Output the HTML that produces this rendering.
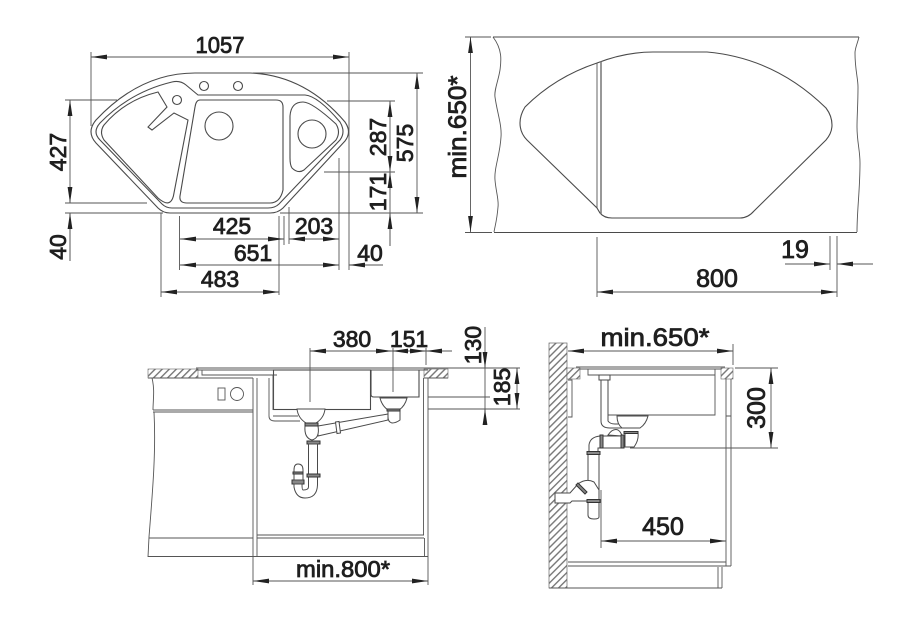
<!DOCTYPE html>
<html><head><meta charset="utf-8"><style>
html,body{margin:0;padding:0;background:#fff}
svg{display:block}
text{font-family:"Liberation Sans",sans-serif;font-size:23px;fill:#1f1f1f;stroke:#1f1f1f;stroke-width:.8;text-anchor:middle}
text.b{font-size:25px}
.d{stroke:#555;stroke-width:.9;fill:none}
.a{stroke:#555;stroke-width:.9;fill:none;marker-start:url(#m);marker-end:url(#m)}
.s{stroke:#555;stroke-width:.9;fill:none;marker-start:url(#m)}
.o{stroke:#4a4a4a;stroke-width:1.1;fill:none}
.p{stroke:#4a4a4a;stroke-width:1;fill:#fff}
.n{stroke:#333;stroke-width:1;fill:#888}
</style></head><body>
<svg width="920" height="630" viewBox="0 0 920 630" xmlns="http://www.w3.org/2000/svg">
<defs>
<marker id="m" markerUnits="userSpaceOnUse" markerWidth="17" markerHeight="6" refX="16" refY="3" orient="auto-start-reverse"><path d="M0 .6L16 3L0 5.400Z" fill="#222"/></marker>
<pattern id="h" width="5" height="5" patternUnits="userSpaceOnUse" patternTransform="rotate(45)"><rect width="5" height="5" fill="#fff"/><rect width="1.4" height="5" fill="#777"/></pattern>
</defs>

<!-- top-left plan -->
<path class="o" d="M96 120Q140 73 195 73L250 73Q305 75 345 122Q352 132 345 141L283 208Q278 213 270 213L170 213Q163 213 158 208L96 143Q86 132 96 120Z"/>
<path class="o" d="M100 123Q130 92 172 82Q180 80 186 85L198 95Q201 95 205 95L305 95Q318 96 340 122Q346 132 340 140L279 204Q275 208 268 208L172 208Q166 208 162 204L100 140Q92 132 100 123Z"/>
<path class="o" d="M158 92Q125 100 104 125Q99 132 104 140L158 198Q166 205 170 202Q173 200 174 193L188 120L174 113L152 130L148 127L167 107Z"/>
<path class="o" d="M200 100L276 100Q283 100 283 107L283 190Q280 203 270 203L187 203Q179 203 180 196L195 107Q196 100 200 100Z"/>
<path class="o" d="M290 116Q291 102 303 102Q312 102 336 124Q341 132 336 140L304 170Q298 174 292 168Q290 165 290 158Z"/>
<circle class="o" cx="219" cy="126" r="14"/><circle class="o" cx="312" cy="134" r="14"/>
<circle class="o" cx="204" cy="86" r="4.5"/><circle class="o" cx="238" cy="86" r="4.5"/><circle class="o" cx="177" cy="100" r="4.5"/>

<path class="d" d="M91 52V126M349 52V270M253 73H423M65 100H117M65 203H147M65 213H163M280 213H423M327 101H395M324 172H395M179.500 216V270M279 216V295M161 213V297M284 216V245M289 207V244M339 158V270M390 213V246M70 213V261"/>
<line class="a" x1="91" y1="57" x2="349" y2="57"/>
<line class="a" x1="417" y1="73" x2="417" y2="213"/>
<line class="a" x1="390" y1="101" x2="390" y2="172"/>
<line class="d" x1="390" y1="172" x2="390" y2="213"/>
<line class="s" x1="390" y1="213" x2="390" y2="246"/>
<line class="s" x1="390" y1="172" x2="390" y2="190"/>
<line class="a" x1="70" y1="100" x2="70" y2="203"/>
<line class="s" x1="70" y1="213" x2="70" y2="261"/>
<line class="a" x1="180" y1="239" x2="284" y2="239"/>
<line class="a" x1="289" y1="239" x2="339" y2="239"/>
<line class="a" x1="180" y1="265" x2="339" y2="265"/>
<line class="s" x1="349" y1="265" x2="383" y2="265"/>
<line class="a" x1="161" y1="292" x2="279" y2="292"/>
<text x="220" y="53" textLength="49" lengthAdjust="spacingAndGlyphs">1057</text>
<text x="232" y="234">425</text><text x="314" y="234">203</text>
<text x="253" y="261">651</text><text x="370" y="261">40</text>
<text x="220" y="287">483</text>
<text transform="translate(66 152) rotate(-90)">427</text>
<text transform="translate(66 247) rotate(-90)">40</text>
<text transform="translate(386 137) rotate(-90)">287</text>
<text transform="translate(386 192) rotate(-90)">171</text>
<text transform="translate(413 143) rotate(-90)">575</text>

<!-- top-right cutout -->
<path class="o" d="M493 37H859M494 232.500H857"/>
<path class="d" d="M493 37C503 50 501 62 500 70C498 82 494 90 495 97C497 112 502 125 501 137C500 155 494 168 495 180C496 192 499 200 498 207C497 220 495 226 494 232"/>
<path class="d" d="M859 37C857 45 855 48 855 53C855 70 858 78 858 87C858 105 857 115 857 127C857 142 860 150 860 163C860 190 857 210 857 232"/>
<path class="o" d="M525 107Q555 77 597 63Q625 52 653 52L707 52Q775 58 826 108Q832 116 832 125Q832 133 826 140L754 211Q748 218 740 218L612 218Q604 218 600 213L597 208L527 140Q520 133 520 123Q520 115 525 107Z"/>
<path class="d" d="M597 63V208"/><path d="M601 61.500V214" stroke="#777" stroke-width="1.500" fill="none"/>
<path class="d" d="M465 37H491M465 232.500H492M597 237V297M837 236V297M830 236V270M785 264H830M837 264H873"/>
<line class="a" x1="470.500" y1="37" x2="470.500" y2="232"/>
<line class="a" x1="597" y1="292" x2="837" y2="292"/>
<line class="s" x1="830" y1="264" x2="812" y2="264"/>
<line class="s" x1="837" y1="264" x2="856" y2="264"/>
<text class="b" transform="translate(466 127) rotate(-90)" textLength="103" lengthAdjust="spacingAndGlyphs">min.650*</text>
<text class="b" x="795" y="258">19</text><text class="b" x="717" y="287">800</text>

<!-- bottom-left section -->
<rect x="148" y="369" width="50" height="9" fill="url(#h)" stroke="#666" stroke-width=".6"/>
<rect x="424" y="369" width="24" height="9" fill="url(#h)" stroke="#666" stroke-width=".6"/>
<path class="d" d="M196 368H520M196 370H428M202 370V375H277M148 378H253M424 378H448M152 378C155 390 153 400 153 410M153 410H253M153 412H253M154 412C156 450 153 487 149 537L148 557M149 538H253M148 556.500H428M253 378V585M257 378V557M423.500 378V535M428 378V585M257 535H424M257 538H424M424.500 538V557M428 397H490M428 409H520"/>
<rect x="218" y="388" width="7" height="12" class="d"/><circle class="d" cx="237" cy="394" r="6.500"/>
<rect x="273.500" y="370" width="97" height="39.500" class="o"/>
<path class="o" d="M371 370V394.500Q371 397 374 397H419V370"/>
<path class="d" d="M269 378V416Q269 421 275 421H300M273 378V410M273 416H298M269 375H273V378"/>
<path class="p" d="M297 409H325Q324 418 316 423H306Q298 418 297 409Z"/>
<path class="p" d="M380 398H407Q405 406 399 410H388Q382 406 380 398Z"/>
<path class="p" d="M318 426L388 414V420L318 436Z"/>
<path class="p" d="M388 410H400V420Q396 423 392 423Q388 422 388 417Z"/>
<path class="p" d="M305 426Q304 438 312 440Q320 438 318 426Z"/>
<path class="p" d="M335.500 422L339 421.500L340.500 433L337 433.500Z"/>
<path class="n" d="M305 423H318V426H305ZM387 409H400V411H387ZM307 441H320V444H307ZM292 480H304V484H292Z"/>
<path class="p" d="M308.500 444V487Q308.500 490 303 490Q302 490 302 484H294V487Q296 498 305 498Q317 498 317.500 485V444Z"/>
<path class="p" d="M294 480V470Q294 464 298 464Q303 464 303 470V480Z"/>
<path class="n" d="M293 472H303V474H293ZM307 474H320V477H307Z"/>
<path class="d" d="M310 348V402M393 348V392M426 348V365M485 327V421"/>
<line class="a" x1="310" y1="351" x2="392" y2="351"/>
<line class="a" x1="392" y1="351" x2="426" y2="351"/>
<line class="s" x1="426" y1="351" x2="452" y2="351"/>
<line class="s" x1="485" y1="368" x2="485" y2="352"/>
<line class="s" x1="485" y1="409" x2="485" y2="425"/>
<line class="a" x1="517" y1="368" x2="517" y2="409"/>
<line class="a" x1="253" y1="581" x2="428" y2="581"/>
<text x="352" y="347">380</text><text x="409" y="347">151</text>
<text x="343" y="577" textLength="94" lengthAdjust="spacingAndGlyphs">min.800*</text>
<text transform="translate(481 345) rotate(-90)">130</text>
<text transform="translate(510 387) rotate(-90)">185</text>

<!-- bottom-right section -->
<rect x="549" y="343" width="18" height="245" fill="url(#h)" stroke="#666" stroke-width=".7"/>
<rect x="567" y="368" width="13" height="11" fill="url(#h)" stroke="#666" stroke-width=".6"/>
<rect x="721" y="368" width="12" height="11" fill="url(#h)" stroke="#666" stroke-width=".6"/>
<path class="d" d="M576 367H725M580 369H721M588 369V375H715M608 375V415H715V369M568 380H572V417H568M726 379V566M731 379V566M568 566H731M568 562H726M549 588H722M718 567V588M722 567V588M726 416H731"/>
<path class="p" d="M601 377H608V421Q610 424 615 424H630V428H610Q601 428 601 421Z"/>
<path class="p" d="M599 375H610V380H599Z"/>
<path class="p" d="M617 416H648Q646 424 640 428H622Q617 424 617 416Z"/>
<path class="p" d="M589 453V445Q590 437 600 436H624V448H598V453Z"/>
<path class="p" d="M625 433H638Q639 440 634 447H625Z"/>
<path class="p" d="M608 435Q613 428 618 430Q621 432 622 436Z"/>
<path class="p" d="M588 453H599V517Q599 519 594 519Q588 519 588 515Z"/>
<path class="p" d="M555 493H570L578 484Q586 478 594 482L599 490V501H572L570 503H555Z"/>
<path class="n" d="M587 451.500H600V454.500H587ZM587 499.500H600V502.500H587ZM624 431.500H638V433.500H624ZM600 435H603V448H600ZM621 435H624V448H621ZM576 485L578 483L587 492L585 494Z"/>
<path class="d" d="M601 490V548M630 448H778M735 368H778M733 344V365"/>
<line class="a" x1="568" y1="351" x2="733" y2="351"/>
<line class="a" x1="771" y1="368" x2="771" y2="448"/>
<line class="a" x1="601" y1="541" x2="726" y2="541"/>
<text class="b" x="655" y="346" textLength="109" lengthAdjust="spacingAndGlyphs">min.650*</text>
<text class="b" x="663" y="535">450</text>
<text class="b" transform="translate(765 408) rotate(-90)">300</text>
</svg>
</body></html>
